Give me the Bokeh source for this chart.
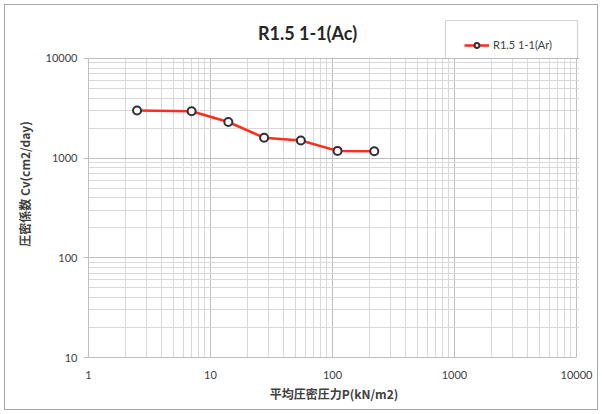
from bokeh.plotting import figure
from bokeh.models import (FixedTicker, PrintfTickFormatter, Legend, LegendItem,
                          Label, BoxAnnotation, Range1d)
from bokeh.embed import file_html
from bokeh.resources import INLINE

# data
pressure = [2.5, 7.0, 14.0, 27.5, 55.0, 110.0, 220.0]
cv = [3000, 2950, 2300, 1600, 1500, 1180, 1170]
x_major = [1, 10, 100, 1000, 10000]
y_major = [10, 100, 1000, 10000]
title_text = "R1.5 1-1(Ac)"
legend_text = "R1.5 1-1(Ar)"
x_label = "平均圧密圧力P(kN/m2)"
y_label = "圧密係数 Cv(cm2/day)"

def minors(majors):
    out = []
    for m in majors[:-1]:
        out += [m * k for k in range(2, 10)]
    return out

# layout geometry (pixels)
FRAME_TOP = 10        # frame extends above the plotted decades to hold title/legend
PLOT_TOP = 58         # where 10000 sits
PLOT_BOTTOM = 357
PX_PER_DEC_Y = 100
X_LEFT, X_RIGHT_PLOT, X_RIGHT_FRAME = 88, 576, 579
PX_PER_DEC_X = 122

y_end = 10 ** (4 + (PLOT_TOP - FRAME_TOP) / PX_PER_DEC_Y)
x_end = 10 ** (4 + (X_RIGHT_FRAME - X_RIGHT_PLOT) / PX_PER_DEC_X)

p = figure(width=602, height=414, x_axis_type="log", y_axis_type="log",
           x_range=Range1d(1, x_end), y_range=Range1d(10, y_end),
           output_backend="svg", toolbar_location=None,
           min_border_left=X_LEFT, min_border_right=602 - X_RIGHT_FRAME,
           min_border_top=FRAME_TOP, min_border_bottom=414 - PLOT_BOTTOM)
p.title = None
p.background_fill_color = "white"
p.border_fill_color = "white"
p.border_fill_alpha = 0.0
p.outline_line_color = None
p.styles = {"outline": "1px solid #a6a6a6", "outline-offset": "-5px",
            "background-color": "white"}

p.xaxis.ticker = FixedTicker(ticks=x_major, minor_ticks=minors(x_major))
p.yaxis.ticker = FixedTicker(ticks=y_major, minor_ticks=minors(y_major))
p.xaxis.formatter = PrintfTickFormatter(format="%d")
p.yaxis.formatter = PrintfTickFormatter(format="%d")
p.xaxis.bounds = (1, 10000)
p.yaxis.bounds = (10, 10000)

for ax in (p.xaxis, p.yaxis):
    ax.axis_line_color = "#bfbfbf"
    ax.major_tick_line_color = "#bfbfbf"
    ax.minor_tick_line_color = None
    ax.major_tick_in = 0
    ax.major_label_text_font = "Lato"
    ax.major_label_text_font_size = "11px"
    ax.major_label_text_color = "#404040"
    ax.axis_label_text_font = "Noto Sans CJK JP"
    ax.axis_label_text_font_size = "12px"
    ax.axis_label_text_font_style = "bold"
    ax.axis_label_text_color = "#404040"
p.xaxis.major_tick_out = 0
p.yaxis.major_tick_out = 5
p.xaxis.major_label_standoff = 9
p.yaxis.major_label_standoff = 6
p.xaxis.axis_label = x_label
p.yaxis.axis_label = y_label
p.xaxis.axis_label_standoff = 3
p.yaxis.axis_label_standoff = 10

for g in (p.xgrid, p.ygrid):
    g.grid_line_color = "#bfbfbf"
    g.grid_line_width = 1
    g.minor_grid_line_color = "#d9d9d9"
    g.minor_grid_line_width = 1

line = p.line(pressure, cv, line_color="#ff2d1a", line_width=2.5)
pts = p.scatter(pressure, cv, marker="circle", size=8, line_color="#303030",
                line_width=2, fill_color="white")

# blank out the grid above the top decade (title / legend area)
cover = BoxAnnotation(bottom=10000 * 1.012, fill_color="white", fill_alpha=1.0,
                      line_color=None)
p.add_layout(cover)

# legend frame (screen units from the frame's bottom-left corner)
legend_box = BoxAnnotation(left=445 - X_LEFT, right=577 - X_LEFT,
                           bottom=PLOT_BOTTOM - 58, top=PLOT_BOTTOM - 20,
                           left_units="screen", right_units="screen",
                           bottom_units="screen", top_units="screen",
                           fill_color="white", fill_alpha=1.0,
                           line_color="#707070", line_width=1.2)
p.add_layout(legend_box)

legend = Legend(items=[LegendItem(label=legend_text, renderers=[line, pts])],
                location=(465 - X_LEFT - 1, PLOT_BOTTOM - 41 - 10), padding=4,
                glyph_width=25, glyph_height=12, label_height=12,
                label_standoff=4, label_width=60,
                label_text_font="Lato", label_text_font_size="11px",
                label_text_color="#404040", border_line_color=None,
                background_fill_alpha=0.0, margin=0)
p.add_layout(legend, "center")

# screen units are measured from the frame's bottom-left corner
title = Label(x=307 - X_LEFT, y=PLOT_BOTTOM - 32, x_units="screen", y_units="screen",
              text=title_text, text_font="Lato", text_font_style="bold",
              text_font_size="18px", text_color="#262626",
              text_align="center", text_baseline="middle")
p.add_layout(title)

open("out.html", "w").write(file_html(p, INLINE))
